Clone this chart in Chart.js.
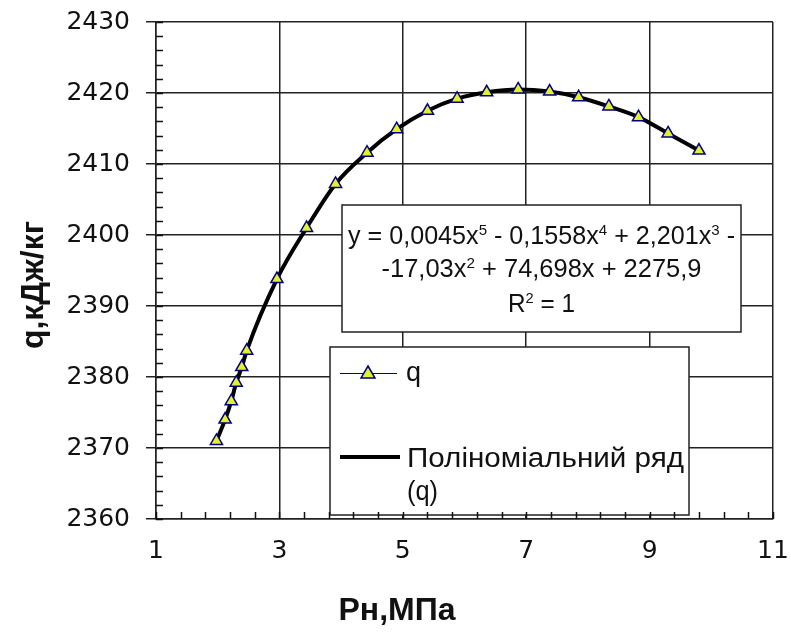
<!DOCTYPE html>
<html>
<head>
<meta charset="utf-8">
<script src="https://cdn.jsdelivr.net/npm/chart.js@4/dist/chart.umd.min.js"></script>
<style>
  html, body { margin: 0; padding: 0; background: #fff; }
  #wrap { width: 791px; height: 639px; position: relative; }
</style>
</head>
<body>
<div id="wrap"><canvas id="qChart"></canvas></div>
<script>
// Pн, MPa
var pressure = [1.98, 2.12, 2.22, 2.30, 2.39, 2.47, 2.96, 3.44, 3.91, 4.42, 4.90,
                5.40, 5.88, 6.36, 6.87, 7.38, 7.85, 8.34, 8.82, 9.30, 9.80];
// q, kJ/kg
var heatQ = [2371.0, 2374.0, 2376.6, 2379.2, 2381.4, 2383.7, 2393.8, 2401.0, 2407.2, 2411.6, 2414.9,
             2417.5, 2419.2, 2420.1, 2420.5, 2420.2, 2419.4, 2418.1, 2416.6, 2414.3, 2411.9];
var xTicks = [1, 3, 5, 7, 9, 11];
var yTicks = [2360, 2370, 2380, 2390, 2400, 2410, 2420, 2430];
var xMinorStep = 0.4;
var yMinorStep = 2;

var seriesName = 'q';
var trendName = ['Поліноміальний ряд', '(q)'];
var xTitle = 'Рн,МПа';
var yTitle = 'q,кДж/кг';
// trendline label: [text, isSuperscript]
var trendEquation = [
    [['y = 0,0045x', 0], ['5', 1], [' - 0,1558x', 0], ['4', 1], [' + 2,201x', 0], ['3', 1], [' -', 0]],
    [['-17,03x', 0], ['2', 1], [' + 74,698x + 2275,9', 0]],
    [['R', 0], ['2', 1], [' = 1', 0]]
];

var markerFill = '#e3f02e';
var markerLine = '#000080';
var tickFont = { family: 'DejaVu Sans', size: 25 };

// text runs with superscripts, stretched to a width like the Excel picture
drawRuns = (ctx, runs, cx, base, size, width) => {
    let w = 0;
    runs.forEach(r => {
        ctx.font = (r[1] ? size * 0.6 : size) + 'px "Liberation Sans"';
        w += ctx.measureText(r[0]).width;
    });
    let k = width ? width / w : 1;
    ctx.save();
    ctx.translate(cx - w * k / 2, base);
    ctx.scale(k, 1);
    let x = 0;
    runs.forEach(r => {
        ctx.font = (r[1] ? size * 0.6 : size) + 'px "Liberation Sans"';
        ctx.fillText(r[0], x, r[1] ? -size * 0.38 : 0);
        x += ctx.measureText(r[0]).width;
    });
    ctx.restore();
};

drawText = (ctx, text, x, base, font, width) => {
    ctx.font = font;
    let w = ctx.measureText(text).width;
    ctx.save();
    ctx.translate(x, base);
    ctx.scale(width ? width / w : 1, 1);
    ctx.fillText(text, 0, 0);
    ctx.restore();
};

// keep the plot box fixed, labels may hang into the margins
noLabelPadding = s => {
    s.paddingLeft = 0;
    s.paddingRight = 0;
    s.paddingTop = 0;
    s.paddingBottom = 0;
};

var extrasPlugin = {
    id: 'extras',
    afterDatasetsDraw: function (chart) {
        var ctx = chart.ctx, xs = chart.scales.x, ys = chart.scales.y, a = chart.chartArea;
        ctx.save();
        ctx.textBaseline = 'alphabetic';
        ctx.textAlign = 'left';

        // equation box
        ctx.fillStyle = '#fff';
        ctx.fillRect(342, 205, 399, 127);
        ctx.strokeStyle = '#222';
        ctx.lineWidth = 1.5;
        ctx.strokeRect(342, 205, 399, 127);
        ctx.fillStyle = '#111';
        drawRuns(ctx, trendEquation[0], 541.5, 244, 25, 387);
        drawRuns(ctx, trendEquation[1], 541.5, 277, 25, 320);
        drawRuns(ctx, trendEquation[2], 541.5, 312, 25, 67);

        // legend box
        ctx.fillStyle = '#fff';
        ctx.fillRect(330, 347, 359, 168);
        ctx.strokeRect(330, 347, 359, 168);
        ctx.strokeStyle = markerLine;
        ctx.lineWidth = 1;
        ctx.beginPath();
        ctx.moveTo(340, 373.5);
        ctx.lineTo(397, 373.5);
        ctx.stroke();
        ctx.fillStyle = markerFill;
        ctx.lineWidth = 1.5;
        ctx.beginPath();
        ctx.moveTo(368, 366);
        ctx.lineTo(375, 378);
        ctx.lineTo(361, 378);
        ctx.closePath();
        ctx.fill();
        ctx.stroke();
        ctx.strokeStyle = '#000';
        ctx.lineWidth = 4;
        ctx.beginPath();
        ctx.moveTo(340, 457);
        ctx.lineTo(400, 457);
        ctx.stroke();
        ctx.fillStyle = '#111';
        drawText(ctx, seriesName, 406, 381, '27px "Liberation Sans"');
        drawText(ctx, trendName[0], 407, 467, '27px "Liberation Sans"', 277);
        drawText(ctx, trendName[1], 407, 500, '27px "Liberation Sans"', 31);

        // minor ticks, inside the plot
        ctx.strokeStyle = '#111';
        ctx.lineWidth = 1.5;
        ctx.beginPath();
        for (var v = ys.min; v <= ys.max; v += yMinorStep) {
            var py = Math.round(ys.getPixelForValue(v)) + 0.5;
            ctx.moveTo(a.left, py);
            ctx.lineTo(a.left + 7, py);
        }
        for (var i = 0; xs.min + i * xMinorStep <= xs.max + 1e-9; i++) {
            var px = Math.round(xs.getPixelForValue(xs.min + i * xMinorStep)) + 0.5;
            ctx.moveTo(px, a.bottom);
            ctx.lineTo(px, a.bottom - 7);
        }
        ctx.stroke();

        // axis titles
        ctx.fillStyle = '#111';
        ctx.textAlign = 'center';
        ctx.textBaseline = 'middle';
        ctx.font = 'bold 32px "Liberation Sans"';
        ctx.fillText(xTitle, 397, 611);
        ctx.translate(34, 285);
        ctx.rotate(-Math.PI / 2);
        ctx.fillText(yTitle, 0, 0);
        ctx.restore();
    }
};

var qChart = new Chart(document.getElementById('qChart').getContext('2d'), {
    type: 'line',
    data: {
        datasets: [{
            label: seriesName,
            data: pressure.map((p, i) => ({ x: p, y: heatQ[i] })),
            borderColor: markerLine,
            borderWidth: 1,
            showLine: false,
            pointStyle: 'triangle',
            pointRadius: 7,
            pointBackgroundColor: markerFill,
            pointBorderColor: markerLine,
            pointBorderWidth: 1.5
        }, {
            label: trendName.join(' '),
            data: pressure.map((p, i) => ({ x: p, y: heatQ[i] })),
            borderColor: '#000',
            borderWidth: 4,
            pointRadius: 0,
            cubicInterpolationMode: 'monotone'
        }]
    },
    options: {
        responsive: true,
        maintainAspectRatio: false,
        animation: false,
        layout: { padding: { top: 22, right: 18, left: 0, bottom: 0 } },
        plugins: {
            legend: { display: false },
            tooltip: { enabled: false }
        },
        scales: {
            x: {
                type: 'linear',
                min: 1,
                max: 11,
                afterBuildTicks: s => { s.ticks = xTicks.map(v => ({ value: v })); },
                afterFit: s => { s.height = 120; noLabelPadding(s); },
                grid: { color: '#222', lineWidth: 1.5, drawTicks: false },
                border: { color: '#222', width: 1.5 },
                ticks: { color: '#111', font: tickFont, padding: 17, maxRotation: 0, callback: v => String(v) }
            },
            y: {
                min: 2360,
                max: 2430,
                afterBuildTicks: s => { s.ticks = yTicks.map(v => ({ value: v })); },
                afterFit: s => { s.width = 156; noLabelPadding(s); },
                grid: { color: '#222', lineWidth: 1.5, tickLength: 10 },
                border: { color: '#222', width: 1.5 },
                ticks: { color: '#111', font: tickFont, padding: 16, callback: v => String(v) }
            }
        }
    },
    plugins: [extrasPlugin]
});
</script>
</body>
</html>
